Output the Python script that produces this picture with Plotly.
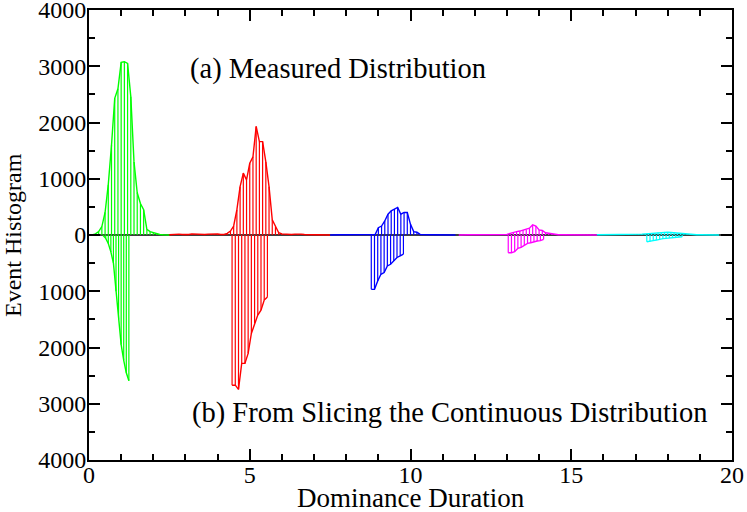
import plotly.graph_objects as go

# ---------------- data ----------------
# (a) measured distributions (positive side)
green_top_x = [round(0.1 + 0.1 * i, 2) for i in range(25)]
green_top_y = [0, 20, 60, 150, 400, 900, 1600, 2430, 2600, 3070, 3080, 3050, 2460,
               1300, 750, 560, 450, 100, 60, 40, 20, 10, 5, 0, 0]

red_top_x = [round(2.5 + 0.1 * i, 2) for i in range(51)]
red_top_y = [5, 10, 10, 15, 10, 5, 10, 20, 15, 10, 5, 10, 15, 20, 15, 20, 10, 10,
             30, 70, 160, 450, 860, 1100, 980, 1275, 1390, 1930, 1660, 1660, 1300,
             860, 270, 150, 40, 20, 15, 10, 10, 15, 20, 15, 10, 5, 5, 5, 5, 5, 0, 0, 0]

blue_top_x = [round(7.5 + 0.1 * i, 2) for i in range(40)]
blue_top_y = [0, 5, 5, 5, 5, 5, 5, 5, 5, 5, 5, 5, 5, 5, 10, 130, 160, 250, 370,
              430, 460, 490, 370, 400, 400, 190, 60, 50, 10, 5, 5, 5, 5, 5, 5,
              5, 5, 0, 0, 0]

magenta_top_x = [round(11.5 + 0.1 * i, 2) for i in range(44)]
magenta_top_y = [0, 5, 5, 5, 5, 5, 5, 5, 5, 5, 5, 5, 5, 5, 5, 10, 30, 50, 60, 70,
                 90, 100, 120, 180, 160, 90, 80, 40, 30, 20, 10, 5, 5, 5, 5, 5,
                 5, 5, 5, 5, 5, 5, 5, 0]

cyan_top_x = [round(15.8 + 0.1 * i, 2) for i in range(39)]
cyan_top_y = [5, 5, 5, 5, 5, 5, 5, 5, 5, 5, 5, 5, 5, 10, 15, 20, 25, 30, 35, 45,
              50, 55, 50, 45, 40, 30, 20, 15, 10, 10, 5, 5, 5, 5, 5, 5, 5, 5, 0]

# (b) from slicing the continuous distribution (plotted downward)
green_bot_x = [0.44, 0.52, 0.60, 0.68, 0.76, 0.84, 0.92, 1.00, 1.08, 1.16, 1.24]
green_bot_y = [-10, -60, -150, -300, -500, -1000, -1500, -1950, -2230, -2450, -2590]

red_bot_x = [4.45, 4.55, 4.65, 4.75, 4.85, 4.95, 5.05, 5.15, 5.25, 5.35, 5.45, 5.55]
red_bot_y = [-2670, -2670, -2745, -2283, -2283, -2105, -1750, -1571, -1423, -1335,
             -1157, -1100]

blue_bot_x = [8.78, 8.88, 8.98, 9.08, 9.18, 9.28, 9.38, 9.48, 9.58, 9.68, 9.78]
blue_bot_y = [-966, -966, -818, -698, -668, -550, -520, -461, -400, -370, -340]

magenta_bot_x = [13.04, 13.14, 13.24, 13.34, 13.44, 13.54, 13.64, 13.74, 13.84,
                 13.94, 14.04, 14.14]
magenta_bot_y = [-315, -315, -297, -237, -219, -178, -148, -137, -119, -107, -101, -77]

cyan_bot_x = [17.35, 17.45, 17.55, 17.65, 17.75, 17.85, 17.95, 18.05, 18.15, 18.25,
              18.35, 18.45]
cyan_bot_y = [-120, -115, -100, -90, -75, -65, -60, -55, -50, -45, -35, -30]

y_tick_vals = [-4000, -3000, -2000, -1000, 0, 1000, 2000, 3000, 4000]
y_tick_text = ["4000", "3000", "2000", "1000", "0", "1000", "2000", "3000", "4000"]

x_title = "Dominance Duration"
y_title = "Event Histogram"

series = [
    (green_top_x, green_top_y, "#00ff00"),
    (green_bot_x, green_bot_y, "#00ff00"),
    (red_top_x, red_top_y, "#ff0000"),
    (red_bot_x, red_bot_y, "#ff0000"),
    (blue_top_x, blue_top_y, "#0000ff"),
    (blue_bot_x, blue_bot_y, "#0000ff"),
    (magenta_top_x, magenta_top_y, "#ff00ff"),
    (magenta_bot_x, magenta_bot_y, "#ff00ff"),
    (cyan_top_x, cyan_top_y, "#00ffff"),
    (cyan_bot_x, cyan_bot_y, "#00ffff"),
]

FONT = "Liberation Serif, Times New Roman, serif"

fig = go.Figure()

# zero line
fig.add_trace(go.Scatter(x=[0, 20], y=[0, 0], mode="lines",
                         line=dict(color="black", width=1.5), hoverinfo="skip"))

for xs, ys, col in series:
    dx, dy = [], []
    for xv, yv in zip(xs, ys):
        dx += [xv, xv, None]
        dy += [0, yv, None]
    fig.add_trace(go.Scatter(x=dx, y=dy, mode="lines",
                             line=dict(color=col, width=1.2), hoverinfo="skip"))
    fig.add_trace(go.Scatter(x=xs, y=ys, mode="lines",
                             line=dict(color=col, width=1.4)))

axis_common = dict(
    showline=True, linecolor="black", linewidth=2, mirror="ticks",
    ticks="inside", ticklen=11, tickwidth=2, tickcolor="black",
    showgrid=False, zeroline=False, automargin=False,
    ticklabeloverflow="allow",
    tickfont=dict(family=FONT, size=24, color="black"),
)

fig.update_xaxes(range=[0, 20], tickvals=[0, 5, 10, 15, 20],
                 ticklabelstandoff=-8,
                 minor=dict(ticks="inside", ticklen=6, tickwidth=2, dtick=1,
                            tickcolor="black", showgrid=False),
                 **axis_common)
fig.update_yaxes(range=[-4000, 4000], tickvals=y_tick_vals, ticktext=y_tick_text,
                 ticklabelstandoff=-4,
                 minor=dict(ticks="inside", ticklen=6, tickwidth=2, dtick=500,
                            tickcolor="black", showgrid=False),
                 **axis_common)

# axis titles
fig.add_annotation(x=0.5, y=-0.0844, xref="paper", yref="paper",
                   xanchor="center", yanchor="middle", showarrow=False,
                   text=x_title, font=dict(family=FONT, size=27, color="black"))
fig.add_annotation(x=-0.1182, y=0.5, xref="paper", yref="paper",
                   xanchor="center", yanchor="middle", showarrow=False,
                   textangle=-90,
                   text=y_title, font=dict(family=FONT, size=24, color="black"))

fig.add_annotation(x=3.08, y=2950, xref="x", yref="y", xanchor="left",
                   yanchor="middle", showarrow=False,
                   text="(a) Measured Distribution",
                   font=dict(family=FONT, size=28.5, color="black"))
fig.add_annotation(x=3.14, y=-3170, xref="x", yref="y", xanchor="left",
                   yanchor="middle", showarrow=False,
                   text="(b) From Slicing the Continuous Distribution",
                   font=dict(family=FONT, size=28.5, color="black"))

fig.update_layout(
    width=747, height=512,
    margin=dict(l=89, r=15, t=10, b=52),
    paper_bgcolor="white", plot_bgcolor="white",
    showlegend=False,
)

fig.write_html("out.html", config={"displayModeBar": False},
               post_script="document.body.style.margin='0';")
